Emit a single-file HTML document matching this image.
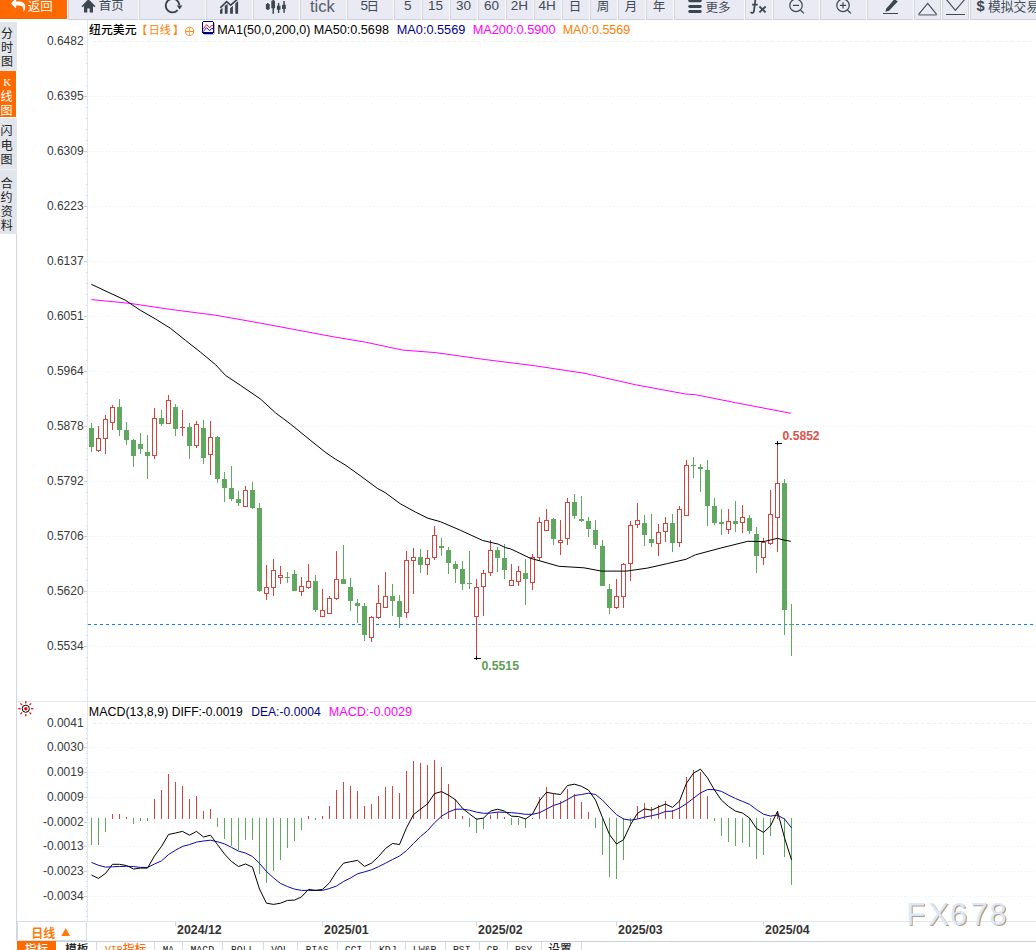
<!DOCTYPE html>
<html><head><meta charset="utf-8"><title>chart</title>
<style>html,body{margin:0;padding:0;background:#fff;overflow:hidden}svg{display:block}</style>
</head><body>
<svg width="1036" height="950" viewBox="0 0 1036 950" font-family="'Liberation Sans', sans-serif">
<rect x="0" y="0" width="1036" height="950" fill="#fff" />
<g id="toolbar">
<rect x="0" y="0" width="1036" height="19" fill="#e9eaf3" />
<rect x="0" y="19" width="1036" height="1" fill="#d0d2db" />
<rect x="0" y="0" width="67" height="19" fill="#ff6a00" />
<rect x="0" y="18" width="67" height="1" fill="#ea6608" />
<rect x="0" y="19" width="68" height="1" fill="#fff" />
<rect x="67" y="0" width="1" height="20" fill="#fbfbfd" />
<rect x="68" y="0" width="1" height="19" fill="#d3d5dd" />
<rect x="138" y="0" width="1" height="20" fill="#fbfbfd" />
<rect x="139" y="0" width="1" height="19" fill="#d3d5dd" />
<rect x="205" y="0" width="1" height="20" fill="#fbfbfd" />
<rect x="206" y="0" width="1" height="19" fill="#d3d5dd" />
<rect x="252" y="0" width="1" height="20" fill="#fbfbfd" />
<rect x="253" y="0" width="1" height="19" fill="#d3d5dd" />
<rect x="299" y="0" width="1" height="20" fill="#fbfbfd" />
<rect x="300" y="0" width="1" height="19" fill="#d3d5dd" />
<rect x="346" y="0" width="1" height="20" fill="#fbfbfd" />
<rect x="347" y="0" width="1" height="19" fill="#d3d5dd" />
<rect x="393" y="0" width="1" height="20" fill="#fbfbfd" />
<rect x="394" y="0" width="1" height="19" fill="#d3d5dd" />
<rect x="421" y="0" width="1" height="20" fill="#fbfbfd" />
<rect x="422" y="0" width="1" height="19" fill="#d3d5dd" />
<rect x="449" y="0" width="1" height="20" fill="#fbfbfd" />
<rect x="450" y="0" width="1" height="19" fill="#d3d5dd" />
<rect x="477" y="0" width="1" height="20" fill="#fbfbfd" />
<rect x="478" y="0" width="1" height="19" fill="#d3d5dd" />
<rect x="505" y="0" width="1" height="20" fill="#fbfbfd" />
<rect x="506" y="0" width="1" height="19" fill="#d3d5dd" />
<rect x="533" y="0" width="1" height="20" fill="#fbfbfd" />
<rect x="534" y="0" width="1" height="19" fill="#d3d5dd" />
<rect x="561" y="0" width="1" height="20" fill="#fbfbfd" />
<rect x="562" y="0" width="1" height="19" fill="#d3d5dd" />
<rect x="589" y="0" width="1" height="20" fill="#fbfbfd" />
<rect x="590" y="0" width="1" height="19" fill="#d3d5dd" />
<rect x="617" y="0" width="1" height="20" fill="#fbfbfd" />
<rect x="618" y="0" width="1" height="19" fill="#d3d5dd" />
<rect x="645" y="0" width="1" height="20" fill="#fbfbfd" />
<rect x="646" y="0" width="1" height="19" fill="#d3d5dd" />
<rect x="673" y="0" width="1" height="20" fill="#fbfbfd" />
<rect x="674" y="0" width="1" height="19" fill="#d3d5dd" />
<rect x="744" y="0" width="1" height="20" fill="#fbfbfd" />
<rect x="745" y="0" width="1" height="19" fill="#d3d5dd" />
<rect x="772" y="0" width="1" height="20" fill="#fbfbfd" />
<rect x="773" y="0" width="1" height="19" fill="#d3d5dd" />
<rect x="819" y="0" width="1" height="20" fill="#fbfbfd" />
<rect x="820" y="0" width="1" height="19" fill="#d3d5dd" />
<rect x="866" y="0" width="1" height="20" fill="#fbfbfd" />
<rect x="867" y="0" width="1" height="19" fill="#d3d5dd" />
<rect x="913" y="0" width="1" height="20" fill="#fbfbfd" />
<rect x="914" y="0" width="1" height="19" fill="#d3d5dd" />
<rect x="941" y="0" width="1" height="20" fill="#fbfbfd" />
<rect x="942" y="0" width="1" height="19" fill="#d3d5dd" />
<rect x="969" y="0" width="1" height="20" fill="#fbfbfd" />
<rect x="970" y="0" width="1" height="19" fill="#d3d5dd" />
<rect x="940" y="0" width="1" height="19" fill="#d3d5dd" />
<rect x="968" y="0" width="1" height="19" fill="#d3d5dd" />
<clipPath id="tbclip"><rect x="0" y="0" width="1036" height="19"/></clipPath>
<g clip-path="url(#tbclip)">
<path d="M25.2 7.38C25.2 6.47 25.11 5.54 24.78 4.67C23.69 1.87 20.48 1.4 17.9 1.4H16.14V-0.68C16.14 -0.96 15.91 -1.2 15.63 -1.2C15.5 -1.2 15.37 -1.14 15.28 -1.05L11.25 3.11C11.16 3.21 11.1 3.34 11.1 3.48C11.1 3.62 11.16 3.75 11.25 3.85L15.28 8.01C15.37 8.1 15.5 8.16 15.63 8.16C15.91 8.16 16.14 7.92 16.14 7.64V5.56H17.9C21.29 5.56 23.52 6.23 23.52 10.11C23.52 10.44 23.5 10.78 23.48 11.11C23.47 11.24 23.44 11.39 23.44 11.52C23.44 11.67 23.53 11.8 23.69 11.8C23.8 11.8 23.85 11.74 23.91 11.66C24.03 11.49 24.11 11.23 24.2 11.04C24.65 10 25.2 8.52 25.2 7.38Z" fill="#fff" />
<text x="27.7" y="10.5" font-size="12.5" fill="#fff" font-family="'Liberation Sans', 'Noto Sans CJK SC', sans-serif">返回</text>
<path d="M88.4 -0.9L95.5 6.2L94.5 7.3L93 5.9V12.4H89.7V8.6H87.3V12.4H84V5.9L82.5 7.3L81.5 6.2z" fill="#3b4651" />
<text x="98.7" y="10.4" font-size="12.5" fill="#414b56" font-family="'Liberation Sans', 'Noto Sans CJK SC', sans-serif">首页</text>
<path d="M177.65 10.15A6.8 6.8 0 1 1 179.4 5.36" stroke="#3b4651" stroke-width="1.9" fill="none"/>
<path d="M176.7 5.5L182.4 5.5L179.7 9.6z" fill="#3b4651" />
<path d="M220 10L222.5 7.8V13.8H220zM224.8 5.8L227.6 4.1V13.8H224.8zM230.1 8.3L232.9 5.7V13.8H230.1zM235.3 3.5L238.1 0.9V13.8H235.3z" fill="#3b4651" />
<path d="M220.3 7.9L226.6 1.6L230.7 5.2L237.2 -0.6" stroke="#3b4651" stroke-width="1.6" fill="none"/>
<path d="M265.9 3.9h1.2v-.9h1.4v.9h1.2v5.3h-1.2v.9h-1.4v-.9h-1.2zM271.3 .8H275v7.5h-3.7zM272.5 -1H274v14.7h-1.5zM276.9 5.8h3.6v4h-3.6zM277.9 2.9h1.4v10h-1.4zM282.1 4.8h3.7v4.3h-3.7zM283.3 1h1.5v11.7h-1.5z" fill="#3b4651" />
<text x="310" y="11.9" font-size="16" fill="#55606b" textLength="24.8" lengthAdjust="spacingAndGlyphs" >tick</text>
<text x="360.5" y="10.4" font-size="13.5" fill="#414b56" >5</text>
<text x="366.6" y="10.6" font-size="12.5" fill="#414b56" font-family="'Liberation Sans', 'Noto Sans CJK SC', sans-serif">日</text>
<text x="407.8" y="10.4" font-size="13.5" fill="#414b56" text-anchor="middle" >5</text>
<text x="435.4" y="10.4" font-size="13.5" fill="#414b56" text-anchor="middle" >15</text>
<text x="463.5" y="10.4" font-size="13.5" fill="#414b56" text-anchor="middle" >30</text>
<text x="491.5" y="10.4" font-size="13.5" fill="#414b56" text-anchor="middle" >60</text>
<text x="519.4" y="10.4" font-size="13.5" fill="#414b56" text-anchor="middle" >2H</text>
<text x="547.2" y="10.4" font-size="13.5" fill="#414b56" text-anchor="middle" >4H</text>
<text x="575" y="10.9" font-size="12.5" fill="#414b56" text-anchor="middle" font-family="'Liberation Sans', 'Noto Sans CJK SC', sans-serif">日</text>
<text x="603" y="10.9" font-size="12.5" fill="#414b56" text-anchor="middle" font-family="'Liberation Sans', 'Noto Sans CJK SC', sans-serif">周</text>
<text x="631" y="10.9" font-size="12.5" fill="#414b56" text-anchor="middle" font-family="'Liberation Sans', 'Noto Sans CJK SC', sans-serif">月</text>
<text x="659" y="10.5" font-size="12.5" fill="#414b56" text-anchor="middle" font-family="'Liberation Sans', 'Noto Sans CJK SC', sans-serif">年</text>
<rect x="688.3" y="-0.8" width="13.4" height="3" rx="1.4" fill="#3b4651"/>
<rect x="688.3" y="5.0" width="13.4" height="3" rx="1.4" fill="#3b4651"/>
<rect x="688.3" y="10.0" width="13.4" height="3" rx="1.4" fill="#3b4651"/>
<text x="705.5" y="11.6" font-size="12.5" fill="#414b56" font-family="'Liberation Sans', 'Noto Sans CJK SC', sans-serif">更多</text>
<path d="M750.5 12.2C752 13.5 753.7 13 754 10.8L755.3 0.4C755.6 -1.6 757.6 -2 759.4 -1M752.1 4.7H757.7" stroke="#3b4651" stroke-width="1.75" fill="none"/>
<path d="M759.4 6.5L765.6 12.4M765.6 6.5L759.4 12.4" stroke="#3b4651" stroke-width="1.8" fill="none"/>
<circle cx="796.0" cy="5.4" r="6.2" stroke="#3b4651" stroke-width="1.2" fill="none"/>
<path d="M800.6 10.2L804.0 13.4" stroke="#3b4651" stroke-width="1.3" fill="none"/>
<path d="M792.9 5.4h6.2" stroke="#3b4651" stroke-width="1.2" fill="none"/>
<circle cx="843.0" cy="5.4" r="6.2" stroke="#3b4651" stroke-width="1.2" fill="none"/>
<path d="M847.6 10.2L851.0 13.4" stroke="#3b4651" stroke-width="1.3" fill="none"/>
<path d="M839.9 5.4h6.2" stroke="#3b4651" stroke-width="1.2" fill="none"/>
<path d="M843.0 2.3v6.2" stroke="#3b4651" stroke-width="1.2" fill="none"/>
<path d="M885.3 11.8L886.3 8.4L894.6 -1L897.8 1.6L889 10.8z" fill="#3b4651" />
<rect x="883" y="13" width="15" height="1" fill="#3b4651" />
<path d="M918.6 14.4L927.7 3.5L936.7 14.4" stroke="#454d57" stroke-width="1.15" fill="none"/>
<rect x="918.4" y="14.1" width="18.4" height="1.6" fill="#868a93" />
<path d="M946.3 -0.6L955.4 10.4L964.7 -0.6" stroke="#454d57" stroke-width="1.15" fill="none"/>
<rect x="946" y="14" width="19" height="1" fill="#3f4852" />
<text x="976.4" y="11.4" font-size="14.6" fill="#3b4651" font-weight="bold" >$</text>
<text x="988" y="10.9" font-size="12.8" fill="#414b56" font-family="'Liberation Sans', 'Noto Sans CJK SC', sans-serif">模拟交易</text>
</g>
</g>
<g id="sidebar">
<rect x="0" y="22" width="17" height="49" fill="#e3e5ec" />
<rect x="0" y="71" width="16" height="46" fill="#ff6a00" />
<rect x="0" y="118" width="17" height="116" fill="#e3e5ec" />
<rect x="0" y="169" width="17" height="1" fill="#eef0f5" />
<rect x="16" y="234" width="1" height="707" fill="#d0d7e1" />
<g font-size="12" fill="#222" text-anchor="middle" font-family="'Liberation Sans', 'Noto Sans CJK SC', sans-serif">
<text x="6.9" y="37.8">分</text>
<text x="6.9" y="51.8">时</text>
<text x="6.9" y="66.2">图</text>
</g>
<g font-size="12" fill="#fff" text-anchor="middle" font-family="'Liberation Sans', 'Noto Sans CJK SC', sans-serif">
<text x="6.6" y="100.5">线</text>
<text x="6.6" y="114.9">图</text>
</g>
<text x="7.3" y="86" font-size="11" fill="#fff" text-anchor="middle" font-family="'Liberation Serif', serif">K</text>
<g font-size="12" fill="#222" text-anchor="middle" font-family="'Liberation Sans', 'Noto Sans CJK SC', sans-serif">
<text x="6.5" y="135.3">闪</text>
<text x="6.7" y="149.7">电</text>
<text x="6.4" y="164.3">图</text>
</g>
<g font-size="12" fill="#222" text-anchor="middle" font-family="'Liberation Sans', 'Noto Sans CJK SC', sans-serif">
<text x="6.8" y="187.7">合</text>
<text x="6.6" y="201.7">约</text>
<text x="6.8" y="215.8">资</text>
<text x="6.8" y="229.8">料</text>
</g>
</g>
<g id="grid" shape-rendering="crispEdges">
<rect x="87" y="20" width="1" height="901" fill="#e2e8f0" />
<path d="M93 41.5H1034" stroke="#e9eef3" stroke-width="1" stroke-dasharray="3 3" fill="none"/>
<path d="M88 96.5H1034" stroke="#e9eef3" stroke-width="1" stroke-dasharray="1 2" fill="none"/>
<rect x="84" y="96" width="3" height="1" fill="#c9ced6" />
<path d="M88 151.5H1034" stroke="#e9eef3" stroke-width="1" stroke-dasharray="1 2" fill="none"/>
<rect x="84" y="151" width="3" height="1" fill="#c9ced6" />
<path d="M88 206.5H1034" stroke="#e9eef3" stroke-width="1" stroke-dasharray="1 2" fill="none"/>
<rect x="84" y="206" width="3" height="1" fill="#c9ced6" />
<path d="M88 261.5H1034" stroke="#e9eef3" stroke-width="1" stroke-dasharray="1 2" fill="none"/>
<rect x="84" y="261" width="3" height="1" fill="#c9ced6" />
<path d="M88 316.5H1034" stroke="#e9eef3" stroke-width="1" stroke-dasharray="1 2" fill="none"/>
<rect x="84" y="316" width="3" height="1" fill="#c9ced6" />
<path d="M88 371.5H1034" stroke="#e9eef3" stroke-width="1" stroke-dasharray="1 2" fill="none"/>
<rect x="84" y="371" width="3" height="1" fill="#c9ced6" />
<path d="M88 426.5H1034" stroke="#e9eef3" stroke-width="1" stroke-dasharray="1 2" fill="none"/>
<rect x="84" y="426" width="3" height="1" fill="#c9ced6" />
<path d="M88 481.5H1034" stroke="#e9eef3" stroke-width="1" stroke-dasharray="1 2" fill="none"/>
<rect x="84" y="481" width="3" height="1" fill="#c9ced6" />
<path d="M88 536.5H1034" stroke="#e9eef3" stroke-width="1" stroke-dasharray="1 2" fill="none"/>
<rect x="84" y="536" width="3" height="1" fill="#c9ced6" />
<path d="M88 591.5H1034" stroke="#e9eef3" stroke-width="1" stroke-dasharray="1 2" fill="none"/>
<rect x="84" y="591" width="3" height="1" fill="#c9ced6" />
<path d="M88 646.5H1034" stroke="#e9eef3" stroke-width="1" stroke-dasharray="1 2" fill="none"/>
<rect x="84" y="646" width="3" height="1" fill="#c9ced6" />
<rect x="86" y="52" width="1" height="1" fill="#cfd8e2" />
<rect x="86" y="63" width="1" height="1" fill="#cfd8e2" />
<rect x="86" y="74" width="1" height="1" fill="#cfd8e2" />
<rect x="86" y="85" width="1" height="1" fill="#cfd8e2" />
<rect x="86" y="107" width="1" height="1" fill="#cfd8e2" />
<rect x="86" y="118" width="1" height="1" fill="#cfd8e2" />
<rect x="86" y="129" width="1" height="1" fill="#cfd8e2" />
<rect x="86" y="140" width="1" height="1" fill="#cfd8e2" />
<rect x="86" y="162" width="1" height="1" fill="#cfd8e2" />
<rect x="86" y="173" width="1" height="1" fill="#cfd8e2" />
<rect x="86" y="184" width="1" height="1" fill="#cfd8e2" />
<rect x="86" y="195" width="1" height="1" fill="#cfd8e2" />
<rect x="86" y="217" width="1" height="1" fill="#cfd8e2" />
<rect x="86" y="228" width="1" height="1" fill="#cfd8e2" />
<rect x="86" y="239" width="1" height="1" fill="#cfd8e2" />
<rect x="86" y="250" width="1" height="1" fill="#cfd8e2" />
<rect x="86" y="272" width="1" height="1" fill="#cfd8e2" />
<rect x="86" y="283" width="1" height="1" fill="#cfd8e2" />
<rect x="86" y="294" width="1" height="1" fill="#cfd8e2" />
<rect x="86" y="305" width="1" height="1" fill="#cfd8e2" />
<rect x="86" y="327" width="1" height="1" fill="#cfd8e2" />
<rect x="86" y="338" width="1" height="1" fill="#cfd8e2" />
<rect x="86" y="349" width="1" height="1" fill="#cfd8e2" />
<rect x="86" y="360" width="1" height="1" fill="#cfd8e2" />
<rect x="86" y="382" width="1" height="1" fill="#cfd8e2" />
<rect x="86" y="393" width="1" height="1" fill="#cfd8e2" />
<rect x="86" y="404" width="1" height="1" fill="#cfd8e2" />
<rect x="86" y="415" width="1" height="1" fill="#cfd8e2" />
<rect x="86" y="437" width="1" height="1" fill="#cfd8e2" />
<rect x="86" y="448" width="1" height="1" fill="#cfd8e2" />
<rect x="86" y="459" width="1" height="1" fill="#cfd8e2" />
<rect x="86" y="470" width="1" height="1" fill="#cfd8e2" />
<rect x="86" y="492" width="1" height="1" fill="#cfd8e2" />
<rect x="86" y="503" width="1" height="1" fill="#cfd8e2" />
<rect x="86" y="514" width="1" height="1" fill="#cfd8e2" />
<rect x="86" y="525" width="1" height="1" fill="#cfd8e2" />
<rect x="86" y="547" width="1" height="1" fill="#cfd8e2" />
<rect x="86" y="558" width="1" height="1" fill="#cfd8e2" />
<rect x="86" y="569" width="1" height="1" fill="#cfd8e2" />
<rect x="86" y="580" width="1" height="1" fill="#cfd8e2" />
<rect x="86" y="602" width="1" height="1" fill="#cfd8e2" />
<rect x="86" y="613" width="1" height="1" fill="#cfd8e2" />
<rect x="86" y="624" width="1" height="1" fill="#cfd8e2" />
<rect x="86" y="635" width="1" height="1" fill="#cfd8e2" />
<rect x="86" y="657" width="1" height="1" fill="#cfd8e2" />
<rect x="86" y="668" width="1" height="1" fill="#cfd8e2" />
<rect x="86" y="679" width="1" height="1" fill="#cfd8e2" />
<rect x="86" y="690" width="1" height="1" fill="#cfd8e2" />
<rect x="17" y="701" width="1019" height="1" fill="#e3e9f0" />
<rect x="17" y="921" width="1019" height="1" fill="#dfe6ee" />
<rect x="17" y="941" width="1019" height="1" fill="#c9d1dc" />
<path d="M93 723.5H1034" stroke="#e9eef3" stroke-width="1" stroke-dasharray="3 3" fill="none"/>
<path d="M88 747.5H1034" stroke="#e9eef3" stroke-width="1" stroke-dasharray="1 2" fill="none"/>
<rect x="84" y="747" width="3" height="1" fill="#c9ced6" />
<path d="M88 772.5H1034" stroke="#e9eef3" stroke-width="1" stroke-dasharray="1 2" fill="none"/>
<rect x="84" y="772" width="3" height="1" fill="#c9ced6" />
<path d="M88 797.5H1034" stroke="#e9eef3" stroke-width="1" stroke-dasharray="1 2" fill="none"/>
<rect x="84" y="797" width="3" height="1" fill="#c9ced6" />
<path d="M88 822.5H1034" stroke="#e9eef3" stroke-width="1" stroke-dasharray="1 2" fill="none"/>
<rect x="84" y="822" width="3" height="1" fill="#c9ced6" />
<path d="M88 846.5H1034" stroke="#e9eef3" stroke-width="1" stroke-dasharray="1 2" fill="none"/>
<rect x="84" y="846" width="3" height="1" fill="#c9ced6" />
<path d="M88 871.5H1034" stroke="#e9eef3" stroke-width="1" stroke-dasharray="1 2" fill="none"/>
<rect x="84" y="871" width="3" height="1" fill="#c9ced6" />
<path d="M88 896.5H1034" stroke="#e9eef3" stroke-width="1" stroke-dasharray="1 2" fill="none"/>
<rect x="84" y="896" width="3" height="1" fill="#c9ced6" />
<rect x="86" y="728" width="1" height="1" fill="#cfd8e2" />
<rect x="86" y="733" width="1" height="1" fill="#cfd8e2" />
<rect x="86" y="738" width="1" height="1" fill="#cfd8e2" />
<rect x="86" y="743" width="1" height="1" fill="#cfd8e2" />
<rect x="86" y="753" width="1" height="1" fill="#cfd8e2" />
<rect x="86" y="758" width="1" height="1" fill="#cfd8e2" />
<rect x="86" y="763" width="1" height="1" fill="#cfd8e2" />
<rect x="86" y="767" width="1" height="1" fill="#cfd8e2" />
<rect x="86" y="777" width="1" height="1" fill="#cfd8e2" />
<rect x="86" y="782" width="1" height="1" fill="#cfd8e2" />
<rect x="86" y="787" width="1" height="1" fill="#cfd8e2" />
<rect x="86" y="792" width="1" height="1" fill="#cfd8e2" />
<rect x="86" y="802" width="1" height="1" fill="#cfd8e2" />
<rect x="86" y="807" width="1" height="1" fill="#cfd8e2" />
<rect x="86" y="812" width="1" height="1" fill="#cfd8e2" />
<rect x="86" y="817" width="1" height="1" fill="#cfd8e2" />
<rect x="86" y="827" width="1" height="1" fill="#cfd8e2" />
<rect x="86" y="832" width="1" height="1" fill="#cfd8e2" />
<rect x="86" y="837" width="1" height="1" fill="#cfd8e2" />
<rect x="86" y="842" width="1" height="1" fill="#cfd8e2" />
<rect x="86" y="852" width="1" height="1" fill="#cfd8e2" />
<rect x="86" y="856" width="1" height="1" fill="#cfd8e2" />
<rect x="86" y="861" width="1" height="1" fill="#cfd8e2" />
<rect x="86" y="866" width="1" height="1" fill="#cfd8e2" />
<rect x="86" y="876" width="1" height="1" fill="#cfd8e2" />
<rect x="86" y="881" width="1" height="1" fill="#cfd8e2" />
<rect x="86" y="886" width="1" height="1" fill="#cfd8e2" />
<rect x="86" y="891" width="1" height="1" fill="#cfd8e2" />
<rect x="86" y="901" width="1" height="1" fill="#cfd8e2" />
<rect x="86" y="906" width="1" height="1" fill="#cfd8e2" />
<rect x="86" y="911" width="1" height="1" fill="#cfd8e2" />
<rect x="86" y="916" width="1" height="1" fill="#cfd8e2" />
</g>
<g id="ylabels" fill="#3a3a3a" font-size="12" text-anchor="end">
<text x="83.6" y="45">0.6482</text>
<text x="83.6" y="100">0.6395</text>
<text x="83.6" y="155">0.6309</text>
<text x="83.6" y="210">0.6223</text>
<text x="83.6" y="265">0.6137</text>
<text x="83.6" y="320">0.6051</text>
<text x="83.6" y="375">0.5964</text>
<text x="83.6" y="430">0.5878</text>
<text x="83.6" y="485">0.5792</text>
<text x="83.6" y="540">0.5706</text>
<text x="83.6" y="595">0.5620</text>
<text x="83.6" y="650">0.5534</text>
<text x="83.6" y="727">0.0041</text>
<text x="83.6" y="751">0.0030</text>
<text x="83.6" y="776">0.0019</text>
<text x="83.6" y="801">0.0009</text>
<text x="83.6" y="826">-0.0002</text>
<text x="83.6" y="850">-0.0013</text>
<text x="83.6" y="875">-0.0023</text>
<text x="83.6" y="900">-0.0034</text>
</g>
<g shape-rendering="crispEdges">
<path d="M88 624.5H1034" stroke="#0d7ff5" stroke-width="1" stroke-dasharray="3 3" stroke-dashoffset="0" fill="none"/>
</g>
<g id="candles" shape-rendering="crispEdges">
<path d="M91 423h1V452h-1zM89 428h5V447h-5zM119 399h1V436h-1zM117 407h5V430h-5zM126 422h1V445h-1zM124 430h5V440h-5zM133 439h1V467h-1zM131 440h5V456h-5zM140 433h1V454h-1zM138 444h5V449h-5zM147 435h1V479h-1zM145 452h5V456h-5zM161 410h1V426h-1zM159 418h5V424h-5zM175 404h1V436h-1zM173 407h5V429h-5zM189 423h1V459h-1zM187 427h5V446h-5zM203 420h1V464h-1zM201 428h5V458h-5zM217 436h1V483h-1zM215 437h5V479h-5zM224 472h1V502h-1zM222 479h5V488h-5zM231 466h1V501h-1zM229 488h5V499h-5zM238 491h1V506h-1zM236 499h5V503h-5zM252 482h1V509h-1zM250 490h5V508h-5zM259 503h1V592h-1zM257 508h5V591h-5zM287 572h1V583h-1zM285 577h5V578h-5zM294 570h1V591h-1zM292 574h5V591h-5zM315 575h1V612h-1zM313 581h5V610h-5zM343 545h1V584h-1zM341 579h5V584h-5zM350 578h1V611h-1zM348 587h5V601h-5zM357 599h1V623h-1zM355 603h5V606h-5zM364 603h1V641h-1zM362 606h5V635h-5zM392 584h1V616h-1zM390 596h5V601h-5zM399 595h1V628h-1zM397 601h5V617h-5zM420 549h1V573h-1zM418 557h5V565h-5zM441 538h1V556h-1zM439 546h5V548h-5zM448 547h1V574h-1zM446 550h5V563h-5zM455 561h1V583h-1zM453 564h5V569h-5zM462 561h1V590h-1zM460 569h5V584h-5zM469 551h1V589h-1zM467 583h5V584h-5zM497 547h1V572h-1zM495 550h5V558h-5zM504 544h1V579h-1zM502 558h5V570h-5zM525 559h1V605h-1zM523 573h5V579h-5zM553 518h1V545h-1zM551 519h5V539h-5zM574 494h1V519h-1zM572 502h5V516h-5zM581 496h1V522h-1zM579 519h5V521h-5zM588 517h1V537h-1zM586 521h5V529h-5zM595 520h1V549h-1zM593 530h5V545h-5zM602 540h1V586h-1zM600 546h5V586h-5zM609 584h1V614h-1zM607 589h5V608h-5zM644 515h1V546h-1zM642 523h5V535h-5zM651 514h1V547h-1zM649 539h5V543h-5zM672 514h1V552h-1zM670 523h5V543h-5zM693 457h1V478h-1zM691 465h5V466h-5zM700 464h1V492h-1zM698 467h5V469h-5zM707 460h1V526h-1zM705 470h5V506h-5zM714 498h1V525h-1zM712 506h5V523h-5zM721 509h1V535h-1zM719 522h5V524h-5zM735 501h1V532h-1zM733 521h5V524h-5zM749 515h1V534h-1zM747 518h5V531h-5zM756 527h1V573h-1zM754 534h5V556h-5zM784 479h1V635h-1zM782 483h5V610h-5zM791 604h1V656h-1zM789 624h5V625h-5z" fill="#60a760"/>
<path d="M98 426h1V438h-1zM98 451h1V452h-1zM105 415h1V419h-1zM105 439h1V454h-1zM112 405h1V407h-1zM112 423h1V430h-1zM154 408h1V418h-1zM154 456h1V459h-1zM168 395h1V400h-1zM182 410h1V436h-1zM180 427h5v1h-5zM196 421h1V424h-1zM196 446h1V448h-1zM210 421h1V437h-1zM210 455h1V475h-1zM245 486h1V490h-1zM266 565h1V587h-1zM266 594h1V600h-1zM273 559h1V570h-1zM273 588h1V596h-1zM280 566h1V575h-1zM280 578h1V584h-1zM301 577h1V586h-1zM301 592h1V596h-1zM308 564h1V581h-1zM308 588h1V589h-1zM322 589h1V610h-1zM329 596h1V598h-1zM336 551h1V579h-1zM336 599h1V600h-1zM371 616h1V617h-1zM371 638h1V642h-1zM378 585h1V603h-1zM378 618h1V619h-1zM385 572h1V596h-1zM406 551h1V560h-1zM406 613h1V618h-1zM413 548h1V557h-1zM413 561h1V594h-1zM427 550h1V558h-1zM427 565h1V575h-1zM434 526h1V535h-1zM434 558h1V560h-1zM476 579h1V587h-1zM476 617h1V658h-1zM483 570h1V573h-1zM483 587h1V616h-1zM490 540h1V550h-1zM490 573h1V576h-1zM511 564h1V580h-1zM518 566h1V571h-1zM518 582h1V586h-1zM532 554h1V557h-1zM532 583h1V590h-1zM539 517h1V522h-1zM539 558h1V561h-1zM546 509h1V520h-1zM560 520h1V540h-1zM560 543h1V555h-1zM567 498h1V502h-1zM567 539h1V545h-1zM616 579h1V596h-1zM616 608h1V609h-1zM623 563h1V564h-1zM623 597h1V608h-1zM630 521h1V525h-1zM630 564h1V581h-1zM637 503h1V520h-1zM637 525h1V528h-1zM658 524h1V532h-1zM658 544h1V556h-1zM665 517h1V523h-1zM665 532h1V542h-1zM679 506h1V509h-1zM679 543h1V547h-1zM686 460h1V465h-1zM728 509h1V521h-1zM728 530h1V534h-1zM742 505h1V517h-1zM742 523h1V533h-1zM763 538h1V542h-1zM763 558h1V565h-1zM770 490h1V514h-1zM770 544h1V545h-1zM777 443h1V483h-1zM777 518h1V552h-1z" fill="#d6423c"/>
<path d="M96 438h5V451h-5zM103 419h5V439h-5zM110 407h5V423h-5zM152 418h5V456h-5zM166 400h5V424h-5zM194 424h5V446h-5zM208 437h5V455h-5zM243 490h5V507h-5zM264 587h5V594h-5zM271 570h5V588h-5zM278 575h5V578h-5zM299 586h5V592h-5zM306 581h5V588h-5zM320 610h5V617h-5zM327 598h5V614h-5zM334 579h5V599h-5zM369 617h5V638h-5zM376 603h5V618h-5zM383 596h5V608h-5zM404 560h5V613h-5zM411 557h5V561h-5zM425 558h5V565h-5zM432 535h5V558h-5zM474 587h5V617h-5zM481 573h5V587h-5zM488 550h5V573h-5zM509 580h5V586h-5zM516 571h5V582h-5zM530 557h5V583h-5zM537 522h5V558h-5zM544 520h5V531h-5zM558 540h5V543h-5zM565 502h5V539h-5zM614 596h5V608h-5zM621 564h5V597h-5zM628 525h5V564h-5zM635 520h5V525h-5zM656 532h5V544h-5zM663 523h5V532h-5zM677 509h5V543h-5zM684 465h5V516h-5zM726 521h5V530h-5zM740 517h5V523h-5zM761 542h5V558h-5zM768 514h5V544h-5zM775 483h5V518h-5z" fill="#d6423c"/>
<path d="M97 439h3V450h-3zM104 420h3V438h-3zM111 408h3V422h-3zM153 419h3V455h-3zM167 401h3V423h-3zM195 425h3V445h-3zM209 438h3V454h-3zM244 491h3V506h-3zM265 588h3V593h-3zM272 571h3V587h-3zM279 576h3V577h-3zM300 587h3V591h-3zM307 582h3V587h-3zM321 611h3V616h-3zM328 599h3V613h-3zM335 580h3V598h-3zM370 618h3V637h-3zM377 604h3V617h-3zM384 597h3V607h-3zM405 561h3V612h-3zM412 558h3V560h-3zM426 559h3V564h-3zM433 536h3V557h-3zM475 588h3V616h-3zM482 574h3V586h-3zM489 551h3V572h-3zM510 581h3V585h-3zM517 572h3V581h-3zM531 558h3V582h-3zM538 523h3V557h-3zM545 521h3V530h-3zM559 541h3V542h-3zM566 503h3V538h-3zM615 597h3V607h-3zM622 565h3V596h-3zM629 526h3V563h-3zM636 521h3V524h-3zM657 533h3V543h-3zM664 524h3V531h-3zM678 510h3V542h-3zM685 466h3V515h-3zM727 522h3V529h-3zM741 518h3V522h-3zM762 543h3V557h-3zM769 515h3V543h-3zM776 484h3V517h-3z" fill="#fff"/>
</g>
<g shape-rendering="crispEdges">
<rect x="775" y="443" width="7" height="1" fill="#000" />
<rect x="777" y="441" width="1" height="4" fill="#000" />
<rect x="474" y="658" width="7" height="1" fill="#000" />
<rect x="476" y="656" width="1" height="4" fill="#000" />
</g>
<text x="782.6" y="440.2" font-size="12" fill="#d9534a" font-weight="bold" textLength="37" lengthAdjust="spacingAndGlyphs" >0.5852</text>
<text x="481.4" y="669.8" font-size="12" fill="#5b9e55" font-weight="bold" textLength="37.6" lengthAdjust="spacingAndGlyphs" >0.5515</text>
<path d="M91.3 299.6L130.2 303.4L170.3 309.4L215.5 315.2L260.7 323.2L300.8 330.7L335 337.1L365.1 342.1L402.8 350.1L435.4 352.6L485.6 359.6L535.8 365.9L585 373.4L635.2 384.7L685.4 394L695.4 394.7L735.6 402.7L790.8 413.3" stroke="#ff00ff" stroke-width="1.0" fill="none" stroke-linejoin="round"/>
<path d="M91.3 284.3L110.1 293.1L125.2 300.1L140.2 310.2L155.3 318.9L170.3 328.2L185.4 340.3L200.4 352.1L215.5 364.6L225.5 375.4L240.6 385.4L260.7 399.2L275.7 413L290.8 424.3L310.8 440.6L325.9 452.7L335.5 459.2L345 464.8L360.1 475.6L377.7 488.6L385.2 492.6L400.2 503.7L415.3 512L427.8 518.2L440.4 521.7L460.5 530.3L482.7 540.5L498.1 544.1L505.3 547.6L510.7 548.9L530.4 558.3L540 560.9L558.8 566.3L583.9 567.8L601.5 571.1L626.6 571.1L647.9 568L667.8 563.5L686.3 559.2L691.4 556.7L695.4 554.8L720.2 548.2L747.8 541.3L764.1 541.5L777.3 538.4L784.2 540.1L790.8 541.3" stroke="#000" stroke-width="1.0" fill="none" stroke-linejoin="round"/>
<g id="macd" shape-rendering="crispEdges">
<path d="M91 818h1V845h-1zM98 818h1V845h-1zM105 818h1V832h-1zM133 818h1V824h-1zM140 818h1V821h-1zM147 818h1V821h-1zM217 818h1V827h-1zM224 818h1V839h-1zM231 818h1V846h-1zM238 818h1V850h-1zM245 818h1V840h-1zM252 818h1V840h-1zM259 818h1V874h-1zM266 818h1V883h-1zM273 818h1V871h-1zM280 818h1V860h-1zM287 818h1V848h-1zM294 818h1V841h-1zM301 818h1V830h-1zM315 818h1V820h-1zM469 818h1V827h-1zM476 818h1V833h-1zM483 818h1V829h-1zM511 818h1V825h-1zM518 818h1V825h-1zM525 818h1V828h-1zM595 818h1V828h-1zM602 818h1V855h-1zM609 818h1V877h-1zM616 818h1V879h-1zM623 818h1V860h-1zM630 818h1V826h-1zM714 818h1V821h-1zM721 818h1V836h-1zM728 818h1V842h-1zM735 818h1V846h-1zM742 818h1V843h-1zM749 818h1V847h-1zM756 818h1V859h-1zM763 818h1V855h-1zM770 818h1V836h-1zM784 818h1V857h-1zM791 818h1V885h-1z" fill="#60a760"/>
<path d="M112 814h1V819h-1zM119 814h1V819h-1zM126 817h1V819h-1zM154 799h1V819h-1zM161 790h1V819h-1zM168 774h1V819h-1zM175 782h1V819h-1zM182 786h1V819h-1zM189 799h1V819h-1zM196 796h1V819h-1zM203 811h1V819h-1zM210 809h1V819h-1zM308 816h1V819h-1zM322 816h1V819h-1zM329 806h1V819h-1zM336 790h1V819h-1zM343 782h1V819h-1zM350 786h1V819h-1zM357 791h1V819h-1zM364 806h1V819h-1zM371 804h1V819h-1zM378 796h1V819h-1zM385 787h1V819h-1zM392 786h1V819h-1zM399 793h1V819h-1zM406 771h1V819h-1zM413 761h1V819h-1zM420 763h1V819h-1zM427 765h1V819h-1zM434 760h1V819h-1zM441 767h1V819h-1zM448 784h1V819h-1zM455 799h1V819h-1zM462 816h1V819h-1zM490 815h1V819h-1zM497 812h1V819h-1zM504 817h1V819h-1zM532 818h1V819h-1zM539 797h1V819h-1zM546 787h1V819h-1zM553 794h1V819h-1zM560 801h1V819h-1zM567 789h1V819h-1zM574 794h1V819h-1zM581 802h1V819h-1zM588 812h1V819h-1zM637 806h1V819h-1zM644 803h1V819h-1zM651 807h1V819h-1zM658 805h1V819h-1zM665 801h1V819h-1zM672 810h1V819h-1zM679 801h1V819h-1zM686 777h1V819h-1zM693 770h1V819h-1zM700 772h1V819h-1zM707 796h1V819h-1zM777 811h1V819h-1z" fill="#d6423c"/>
</g>
<path d="M91.5 862.4L98.5 865.3L105.5 867.1L112.5 866.8L119.5 866.5L126.5 866.3L133.5 866.5L140.5 867.4L147.5 867.4L154.5 864L161.5 860.9L168.5 854.6L175.5 850.2L182.5 846.4L189.5 844.6L196.5 842.1L203.5 841L210.5 840.2L217.5 841.7L224.5 843.9L231.5 847.4L238.5 851.1L245.5 853.1L252.5 856.5L259.5 863.4L266.5 871.5L273.5 877.8L280.5 883.5L287.5 886.6L294.5 889.1L301.5 890.4L308.5 890.4L315.5 890.4L322.5 890.4L329.5 888.5L336.5 886L343.5 881.5L350.5 878L357.5 873.8L364.5 871.9L371.5 869.8L378.5 866.7L385.5 863.2L392.5 859.5L399.5 856L406.5 850.6L413.5 843.5L420.5 836.6L427.5 830.7L434.5 822.8L441.5 816.2L448.5 812.1L455.5 809.2L462.5 809.2L469.5 810.2L476.5 812.1L483.5 813.3L490.5 813.1L497.5 812.1L504.5 812.3L511.5 812.7L518.5 813.3L525.5 814.3L532.5 814.3L539.5 812.7L546.5 809.2L553.5 805.4L560.5 803.3L567.5 799.5L574.5 795.5L581.5 794.5L588.5 793.2L595.5 794.5L602.5 800.1L609.5 807.7L616.5 814.6L623.5 819L630.5 820.2L637.5 819L644.5 817.1L651.5 815.8L658.5 814.2L665.5 811.4L672.5 811.2L679.5 808L686.5 803.6L693.5 798.2L700.5 792.9L707.5 789.5L714.5 789.7L721.5 791.4L728.5 795.1L735.5 798.5L742.5 801.4L749.5 804.3L756.5 809.6L763.5 814.2L770.5 816.1L777.5 815.2L784.5 819L791.5 827.8" stroke="#0a0aa8" stroke-width="1.0" fill="none" stroke-linejoin="round"/>
<path d="M91.5 875.1L98.5 878.4L105.5 873.4L112.5 864.3L119.5 864.3L126.5 865.5L133.5 869L140.5 868.1L147.5 868.1L154.5 855.9L161.5 846.4L168.5 834.5L175.5 833L182.5 831.4L189.5 835.2L196.5 831.4L203.5 837L210.5 835.2L217.5 844.6L224.5 854L231.5 861.5L238.5 866.5L245.5 864L252.5 867.1L259.5 889.1L266.5 903.2L273.5 904.4L280.5 903.2L287.5 900.4L294.5 900.1L301.5 896.9L308.5 889.4L315.5 890.4L322.5 889.4L329.5 882.8L336.5 871.7L343.5 863.2L350.5 861.7L357.5 860.4L364.5 866.4L371.5 863.2L378.5 856.6L385.5 848.5L392.5 843.5L399.5 844.5L406.5 827.8L413.5 814.6L420.5 809.2L427.5 803.9L434.5 793.6L441.5 791.6L448.5 795.2L455.5 799.8L462.5 808.3L469.5 814L476.5 819.2L483.5 818.1L490.5 811.1L497.5 809.2L504.5 811.1L511.5 816.2L518.5 816.5L525.5 819L532.5 814L539.5 800.8L546.5 792.3L553.5 793.6L560.5 794.5L567.5 785.5L574.5 784.2L581.5 786.3L588.5 790.1L595.5 800.1L602.5 817.7L609.5 834.6L616.5 844L623.5 839.7L630.5 824.6L637.5 813.3L644.5 808.9L651.5 810.2L658.5 807L665.5 804.1L672.5 807.4L679.5 801L686.5 783.2L693.5 773.1L700.5 769.2L707.5 777.9L714.5 790.1L721.5 800.2L728.5 806.4L735.5 811.1L742.5 813L749.5 818L756.5 828.4L763.5 832.4L770.5 825.9L777.5 811.4L784.5 837.8L791.5 859.8" stroke="#000" stroke-width="1.0" fill="none" stroke-linejoin="round"/>
<text x="89" y="34" font-size="11.9" fill="#000" font-weight="500" font-family="'Liberation Sans', 'Noto Sans CJK SC', sans-serif">纽元美元</text>
<text x="147.3" y="33.9" font-size="11" fill="#ff8000" text-anchor="end" font-family="'Liberation Sans', 'Noto Sans CJK SC', sans-serif">【</text>
<text x="148.7" y="34.2" font-size="11" fill="#ff8000" font-family="'Liberation Sans', 'Noto Sans CJK SC', sans-serif">日线</text>
<text x="173.1" y="33.9" font-size="11" fill="#ff8000" font-family="'Liberation Sans', 'Noto Sans CJK SC', sans-serif">】</text>
<circle cx="189.6" cy="31.4" r="4.1" stroke="#ff8c1a" stroke-width="1" fill="none"/>
<path d="M185.5 31.5h8.2" stroke="#ff8c1a" stroke-width="1.1" fill="none"/>
<path d="M189.6 27.4v8.2" stroke="#ffa64d" stroke-width="1" fill="none"/>
<g shape-rendering="crispEdges">
<rect x="203" y="21" width="10" height="12" fill="#fff" />
<rect x="203" y="21" width="10" height="1" fill="#000080" />
<rect x="202" y="22" width="1" height="11" fill="#000080" />
<rect x="213" y="22" width="1" height="11" fill="#000080" />
<rect x="203" y="32" width="10" height="2" fill="#000080" />
<rect x="214" y="23" width="1" height="11" fill="#b9b9c4" />
<rect x="204" y="34" width="10" height="1" fill="#b9b9c4" />
</g>
<path d="M203.3 28.8L206.5 24.6L209.6 27.8L211.4 25.6H213" stroke="#ff1010" stroke-width="1" fill="none"/>
<path d="M203.3 31.6L206.5 27.6L209.6 30.8L211.4 28.6H213" stroke="#1010ff" stroke-width="1" fill="none"/>
<text x="217.17" y="33.9" font-size="12" fill="#000" textLength="93.3" lengthAdjust="spacingAndGlyphs" >MA1(50,0,200,0)</text>
<text x="313.76" y="33.9" font-size="12" fill="#000" textLength="75.19" lengthAdjust="spacingAndGlyphs" >MA50:0.5698</text>
<text x="396.76" y="33.9" font-size="12" fill="#00008b" textLength="68.54" lengthAdjust="spacingAndGlyphs" >MA0:0.5569</text>
<text x="472.66" y="33.9" font-size="12" fill="#ff00ff" textLength="82.84" lengthAdjust="spacingAndGlyphs" >MA200:0.5900</text>
<text x="562.67" y="33.9" font-size="12" fill="#ff8000" textLength="67.62" lengthAdjust="spacingAndGlyphs" >MA0:0.5569</text>
<text x="88.88" y="716" font-size="12" fill="#000" textLength="79.39" lengthAdjust="spacingAndGlyphs" >MACD(13,8,9)</text>
<text x="171.71" y="716" font-size="12" fill="#000" textLength="71.06" lengthAdjust="spacingAndGlyphs" >DIFF:-0.0019</text>
<text x="251.2" y="716" font-size="12" fill="#00008b" textLength="69.45" lengthAdjust="spacingAndGlyphs" >DEA:-0.0004</text>
<text x="328.77" y="716" font-size="12" fill="#ff00ff" textLength="83.33" lengthAdjust="spacingAndGlyphs" >MACD:-0.0029</text>
<circle cx="25.8" cy="708.7" r="3.6" stroke="#000" stroke-width="1" fill="#fff"/>
<circle cx="25.8" cy="708.7" r="1.7" fill="#ff0000"/>
<path d="M31 708.7L33.4 708.7" stroke="#ff0000" stroke-width="1.25" fill="none"/>
<path d="M29.48 712.38L31.17 714.07" stroke="#ff0000" stroke-width="1.25" fill="none"/>
<path d="M25.8 713.9L25.8 716.3" stroke="#ff0000" stroke-width="1.25" fill="none"/>
<path d="M22.12 712.38L20.43 714.07" stroke="#ff0000" stroke-width="1.25" fill="none"/>
<path d="M20.6 708.7L18.2 708.7" stroke="#ff0000" stroke-width="1.25" fill="none"/>
<path d="M22.12 705.02L20.43 703.33" stroke="#ff0000" stroke-width="1.25" fill="none"/>
<path d="M25.8 703.5L25.8 701.1" stroke="#ff0000" stroke-width="1.25" fill="none"/>
<path d="M29.48 705.02L31.17 703.33" stroke="#ff0000" stroke-width="1.25" fill="none"/>
<g shape-rendering="crispEdges">
<rect x="17.5" y="921.5" width="69" height="19" fill="#fff" stroke="#d3dbe6" stroke-width="1"/>
<rect x="175" y="922" width="1" height="4" fill="#cfd8e2" />
<rect x="322" y="922" width="1" height="4" fill="#cfd8e2" />
<rect x="476" y="922" width="1" height="4" fill="#cfd8e2" />
<rect x="616" y="922" width="1" height="4" fill="#cfd8e2" />
<rect x="763" y="922" width="1" height="4" fill="#cfd8e2" />
</g>
<text x="177.1" y="934" font-size="12" fill="#333" font-weight="bold" textLength="44.6" lengthAdjust="spacingAndGlyphs" >2024/12</text>
<text x="324.1" y="934" font-size="12" fill="#333" font-weight="bold" textLength="44.6" lengthAdjust="spacingAndGlyphs" >2025/01</text>
<text x="478.1" y="934" font-size="12" fill="#333" font-weight="bold" textLength="44.6" lengthAdjust="spacingAndGlyphs" >2025/02</text>
<text x="618.1" y="934" font-size="12" fill="#333" font-weight="bold" textLength="44.6" lengthAdjust="spacingAndGlyphs" >2025/03</text>
<text x="765.1" y="934" font-size="12" fill="#333" font-weight="bold" textLength="44.6" lengthAdjust="spacingAndGlyphs" >2025/04</text>
<text x="31.2" y="937.5" font-size="12" fill="#ff7a0a" font-weight="bold" font-family="'Liberation Sans', 'Noto Sans CJK SC', sans-serif">日线</text>
<path d="M61.3 936.1L65.7 928.1L70 936.1z" fill="#ff7a0a" />
<clipPath id="btclip"><rect x="0" y="941" width="1036" height="9"/></clipPath>
<g clip-path="url(#btclip)">
<rect x="17" y="941" width="39" height="9" fill="#ff6a00" />
<rect x="96" y="942" width="1" height="8" fill="#d3dae4" />
<rect x="154" y="942" width="1" height="8" fill="#d3dae4" />
<rect x="182" y="942" width="1" height="8" fill="#d3dae4" />
<rect x="222" y="942" width="1" height="8" fill="#d3dae4" />
<rect x="263" y="942" width="1" height="8" fill="#d3dae4" />
<rect x="297" y="942" width="1" height="8" fill="#d3dae4" />
<rect x="337" y="942" width="1" height="8" fill="#d3dae4" />
<rect x="370" y="942" width="1" height="8" fill="#d3dae4" />
<rect x="405" y="942" width="1" height="8" fill="#d3dae4" />
<rect x="445" y="942" width="1" height="8" fill="#d3dae4" />
<rect x="479" y="942" width="1" height="8" fill="#d3dae4" />
<rect x="507" y="942" width="1" height="8" fill="#d3dae4" />
<rect x="541" y="942" width="1" height="8" fill="#d3dae4" />
<rect x="581" y="942" width="1" height="8" fill="#d3dae4" />
<text x="24.8" y="953" font-size="11.8" fill="#fff" font-weight="500" font-family="'Liberation Sans', 'Noto Sans CJK SC', sans-serif">指标</text>
<text x="65" y="953" font-size="11.8" fill="#222" font-weight="500" font-family="'Liberation Sans', 'Noto Sans CJK SC', sans-serif">模板</text>
<text x="105" y="953.2" font-size="11.6" fill="#ff6a00" font-family="'Liberation Mono', monospace" textLength="17.6" lengthAdjust="spacingAndGlyphs">VIP</text>
<text x="122.8" y="953" font-size="11.8" fill="#ff6a00" font-weight="500" font-family="'Liberation Sans', 'Noto Sans CJK SC', sans-serif">指标</text>
<text x="162.8" y="953.2" font-size="11.6" fill="#222" font-family="'Liberation Mono', monospace" textLength="11" lengthAdjust="spacingAndGlyphs">MA</text>
<text x="190.4" y="953.2" font-size="11.6" fill="#222" font-family="'Liberation Mono', monospace" textLength="23.8" lengthAdjust="spacingAndGlyphs">MACD</text>
<text x="231" y="953.2" font-size="11.6" fill="#222" font-family="'Liberation Mono', monospace" textLength="23.4" lengthAdjust="spacingAndGlyphs">BOLL</text>
<text x="271.2" y="953.2" font-size="11.6" fill="#222" font-family="'Liberation Mono', monospace" textLength="17.2" lengthAdjust="spacingAndGlyphs">VOL</text>
<text x="305.8" y="953.2" font-size="11.6" fill="#222" font-family="'Liberation Mono', monospace" textLength="22.8" lengthAdjust="spacingAndGlyphs">BIAS</text>
<text x="345" y="953.2" font-size="11.6" fill="#222" font-family="'Liberation Mono', monospace" textLength="17.2" lengthAdjust="spacingAndGlyphs">CCI</text>
<text x="379" y="953.2" font-size="11.6" fill="#222" font-family="'Liberation Mono', monospace" textLength="17.6" lengthAdjust="spacingAndGlyphs">KDJ</text>
<text x="412.8" y="953.2" font-size="11.6" fill="#222" font-family="'Liberation Mono', monospace" textLength="23.6" lengthAdjust="spacingAndGlyphs">LW&amp;R</text>
<text x="453" y="953.2" font-size="11.6" fill="#222" font-family="'Liberation Mono', monospace" textLength="17.6" lengthAdjust="spacingAndGlyphs">RSI</text>
<text x="486.8" y="953.2" font-size="11.6" fill="#222" font-family="'Liberation Mono', monospace" textLength="11.4" lengthAdjust="spacingAndGlyphs">CR</text>
<text x="515" y="953.2" font-size="11.6" fill="#222" font-family="'Liberation Mono', monospace" textLength="17.2" lengthAdjust="spacingAndGlyphs">PSY</text>
<text x="548.2" y="953" font-size="11.8" fill="#222" font-weight="500" font-family="'Liberation Sans', 'Noto Sans CJK SC', sans-serif">设置</text>
</g>
<filter id="wmb" x="-5%" y="-20%" width="110%" height="140%"><feGaussianBlur stdDeviation="0.45"/></filter>
<text x="906.24 928.2 949.82 970.6 989.34" y="924.7" font-size="31.2" fill="#a88f7e" opacity="0.9" filter="url(#wmb)" transform="translate(1.1,1.1)">FX678</text>
<text x="906.24 928.2 949.82 970.6 989.34" y="924.7" font-size="31.2" fill="#dbe8f8">FX678</text>
</svg>
</body></html>
